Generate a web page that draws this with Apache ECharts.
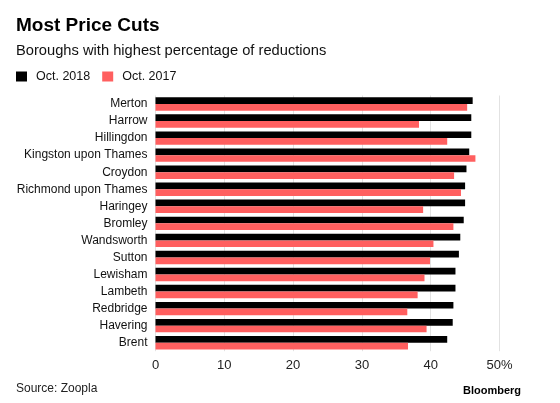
<!DOCTYPE html>
<html><head><meta charset="utf-8">
<script src="https://cdn.jsdelivr.net/npm/echarts@6/dist/echarts.min.js"></script>
<style>html,body{margin:0;padding:0;background:#fff}#c{width:560px;height:403px}</style>
</head><body><div id="c"></div>
<script>
const categories = ["Merton","Harrow","Hillingdon","Kingston upon Thames","Croydon","Richmond upon Thames","Haringey","Bromley","Wandsworth","Sutton","Lewisham","Lambeth","Redbridge","Havering","Brent"];
const oct2018 = [46.1,45.9,45.9,45.6,45.2,45.0,45.0,44.8,44.3,44.1,43.6,43.6,43.3,43.2,42.4];
const oct2017 = [45.3,38.3,42.4,46.5,43.4,44.4,38.9,43.3,40.4,39.9,39.1,38.1,36.6,39.4,36.7];
const xTicks = [0,10,20,30,40,50];

const font = "'Liberation Sans', Arial, sans-serif";
const chart = echarts.init(document.getElementById('c'), null, {renderer:'canvas'});
chart.setOption({
  animation:false,
  textStyle:{fontFamily:font},
  title:[
    {text:'Most Price Cuts', left:11, top:11, textStyle:{fontFamily:font, fontSize:19, fontWeight:'bold', color:'#000'}},
    {text:'Boroughs with highest percentage of reductions', left:11, top:38, textStyle:{fontFamily:font, fontSize:14.7, fontWeight:'normal', color:'#111'}},
    {text:'Source: Zoopla', left:11, top:378, textStyle:{fontFamily:font, fontSize:12, fontWeight:'normal', color:'#222'}},
    {text:'Bloomberg', left:458, top:380, textStyle:{fontFamily:font, fontSize:11, fontWeight:'bold', color:'#000'}}
  ],
  legend:{
    left:11, top:65, itemWidth:11, itemHeight:10, itemGap:12, icon:'rect',
    textStyle:{fontFamily:font, fontSize:12.5, color:'#111', padding:[0,0,0,4]},
    data:['Oct. 2018','Oct. 2017']
  },
  grid:{left:155.5, top:95.5, width:344, height:255.7, containLabel:false},
  xAxis:{
    type:'value', min:xTicks[0], max:xTicks[xTicks.length-1], interval:10,
    axisLine:{show:false}, axisTick:{show:false},
    splitLine:{show:true, lineStyle:{color:'#e2e2e2', width:1}},
    axisLabel:{fontFamily:font, fontSize:13, color:'#222', margin:8,
      formatter:function(v){ return v===50 ? v+'%' : String(v); }}
  },
  yAxis:{
    type:'category', data:categories, inverse:true,
    axisLine:{show:false}, axisTick:{show:false},
    axisLabel:{fontFamily:font, fontSize:12, color:'#111', margin:8}
  },
  series:[
    {name:'Oct. 2018', type:'bar', data:oct2018, barWidth:6.7, barGap:'0%', itemStyle:{color:'#000'}},
    {name:'Oct. 2017', type:'bar', data:oct2017, barWidth:6.7, barGap:'0%', itemStyle:{color:'#ff5f5f'}}
  ]
});
</script></body></html>
